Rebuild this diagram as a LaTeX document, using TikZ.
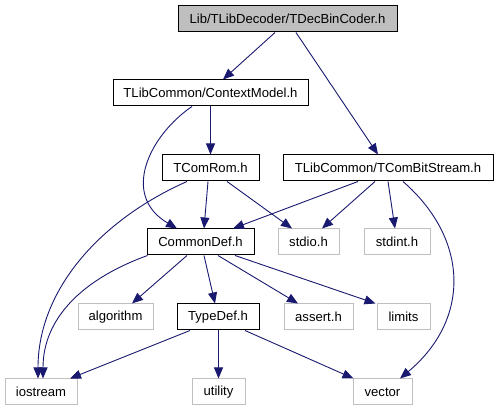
\documentclass[tikz,border=0pt]{standalone}
\usepackage{fontspec}
\setmainfont{Liberation Sans}
\usetikzlibrary{arrows.meta}
\definecolor{edgeblue}{HTML}{191970}
\definecolor{boxgray}{HTML}{BFBFBF}
\begin{document}
\begin{tikzpicture}[x=1pt,y=-1pt,
  base/.style={rectangle,inner sep=0pt,minimum height=26pt,font=\fontsize{13.1}{15}\selectfont,text=black,line width=1pt},
  docbox/.style={base,draw=black},
  sysbox/.style={base,draw=boxgray},
  topbox/.style={base,draw=black,fill=boxgray},
  edge/.style={draw=edgeblue,line width=0.9pt,-{Triangle[length=11pt,width=9pt]}}]
\useasboundingbox (0,0) rectangle (499,411);
\node[topbox,minimum width=219pt] (top) at (287.5,19) {Lib/TLibDecoder/TDecBinCoder.h};
\node[docbox,minimum width=195pt] (ctx) at (210.5,93) {TLibCommon/ContextModel.h};
\node[docbox,minimum width=97pt] (rom) at (210.5,168) {TComRom.h};
\node[docbox,minimum width=210pt] (bs) at (388,168) {TLibCommon/TComBitStream.h};
\node[docbox,minimum width=107pt] (cd) at (200.5,242) {CommonDef.h};
\node[sysbox,minimum width=61pt] (stdio) at (308.5,242) {stdio.h};
\node[sysbox,minimum width=66pt] (stdint) at (397,242) {stdint.h};
\node[sysbox,minimum width=75pt] (alg) at (115.5,317) {algorithm};
\node[docbox,minimum width=82pt] (td) at (218,317) {TypeDef.h};
\node[sysbox,minimum width=69pt] (assert) at (318.5,317) {assert.h};
\node[sysbox,minimum width=53pt] (limits) at (403.5,317) {limits};
\node[sysbox,minimum width=72pt] (ios) at (41,392) {iostream};
\node[sysbox,minimum width=53pt] (util) at (218.5,392) {utility};
\node[sysbox,minimum width=59pt] (vec) at (382.5,392) {vector};
% edges
\draw[edge] ([xshift=-12.5pt]top.south) -- ([xshift=12.5pt]ctx.north);
\draw[edge] ([xshift=8.5pt]top.south) -- ([xshift=-10pt]bs.north);
\draw[edge] (ctx.south) -- (rom.north);
\draw[edge] ([xshift=-18.5pt]ctx.south) .. controls (150,135) and (120,195) .. ([xshift=-23.5pt]cd.north);
\draw[edge] ([xshift=-2.5pt]rom.south) -- ([xshift=3.5pt]cd.north);
\draw[edge] ([xshift=16.5pt]rom.south) -- ([xshift=-16.5pt]stdio.north);
\draw[edge] ([xshift=-23.5pt]rom.south) .. controls (100,220) and (38,290) .. ([xshift=-3pt]ios.north);
\draw[edge] ([xshift=-30pt]bs.south) -- ([xshift=32.5pt]cd.north);
\draw[edge] ([xshift=-13pt]bs.south) -- ([xshift=13.5pt]stdio.north);
\draw[edge] (bs.south) -- ([xshift=-2pt]stdint.north);
\draw[edge] ([xshift=15pt]bs.south) .. controls (470,240) and (470,320) .. ([xshift=17.5pt]vec.north);
\draw[edge] ([xshift=-53pt]cd.south) .. controls (80,280) and (43,320) .. ([xshift=2pt]ios.north);
\draw[edge] ([xshift=-13.5pt]cd.south) -- ([xshift=16.5pt]alg.north);
\draw[edge] ([xshift=3.5pt]cd.south) -- ([xshift=-3pt]td.north);
\draw[edge] ([xshift=17.5pt]cd.south) -- ([xshift=-20.5pt]assert.north);
\draw[edge] ([xshift=34.5pt]cd.south) -- ([xshift=-28pt]limits.north);
\draw[edge] ([xshift=-28pt]td.south) -- ([xshift=29pt]ios.north);
\draw[edge] ([xshift=0.5pt]td.south) -- (util.north);
\draw[edge] ([xshift=27pt]td.south) -- ([xshift=-29pt]vec.north);
\end{tikzpicture}
\end{document}
